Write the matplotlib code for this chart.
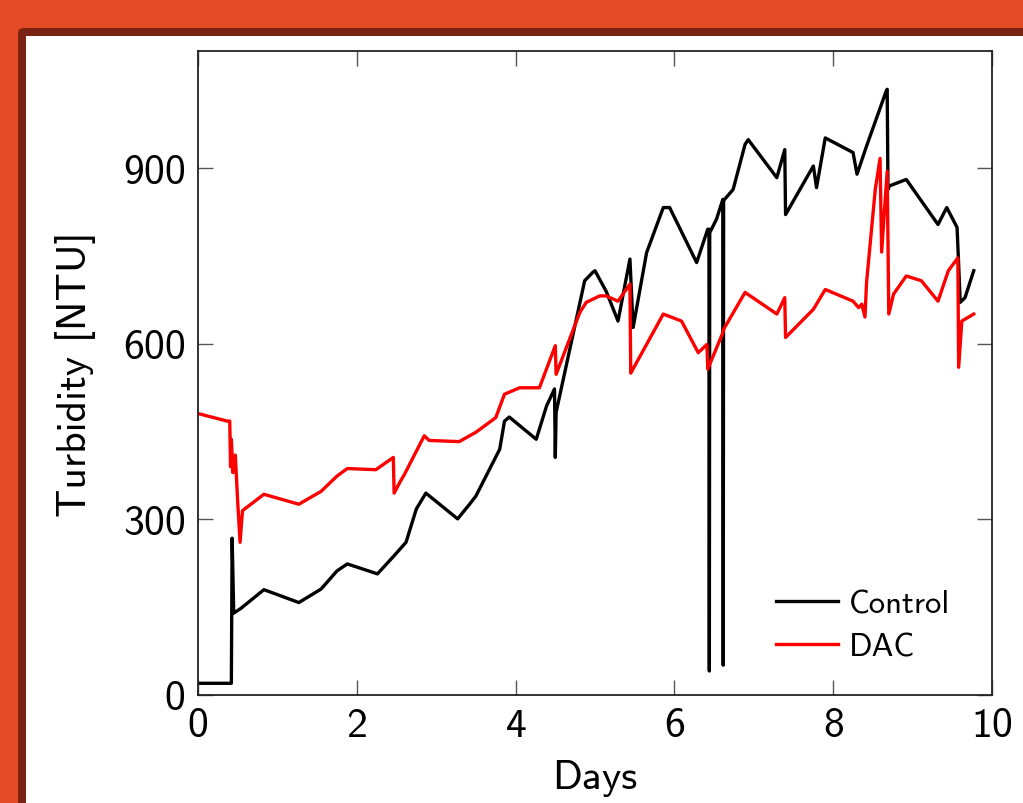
import numpy as np
import matplotlib
matplotlib.use("Agg")
import matplotlib.pyplot as plt
from matplotlib.patches import FancyBboxPatch

plt.rcParams['font.family'] = ['cmss10', 'DejaVu Sans']
plt.rcParams['axes.formatter.use_mathtext'] = True

# Control turbidity trace (days, NTU)
control_days = [0.0, 0.42, 0.43, 0.45, 0.54, 0.83, 1.27, 1.55, 1.75, 1.88, 2.26, 2.47,
                2.62, 2.75, 2.87, 3.27, 3.42, 3.50, 3.80, 3.86, 3.92, 4.26, 4.39, 4.49,
                4.50, 4.51, 4.87, 4.97, 5.00, 5.14, 5.29, 5.44, 5.48, 5.65, 5.86, 5.94,
                6.28, 6.42, 6.435, 6.44, 6.445, 6.53, 6.61, 6.615, 6.62, 6.74, 6.89, 6.93,
                7.29, 7.39, 7.40, 7.75, 7.79, 7.90, 8.25, 8.30, 8.42, 8.57, 8.67, 8.68,
                8.69, 8.71, 8.92, 9.32, 9.43, 9.56, 9.60, 9.66, 9.77]
control_ntu = [20, 20, 268, 140, 148, 180, 158, 181, 212, 224, 207, 238,
               261, 318, 345, 301, 326, 340, 420, 468, 475, 437, 494, 523,
               406, 483, 708, 722, 725, 690, 639, 745, 628, 756, 833, 833,
               739, 796, 796, 41, 790, 813, 847, 51, 845, 864, 941, 949,
               884, 932, 821, 904, 867, 952, 927, 890, 938, 995, 1033, 1035,
               864, 870, 881, 804, 833, 799, 671, 679, 725]

# DAC turbidity trace (days, NTU)
dac_days = [0.0, 0.37, 0.40, 0.41, 0.42, 0.44, 0.47, 0.50, 0.53, 0.56, 0.83, 1.27,
            1.55, 1.75, 1.88, 2.24, 2.46, 2.47, 2.54, 2.60, 2.85, 2.91, 3.29, 3.50,
            3.75, 3.86, 4.05, 4.30, 4.50, 4.51, 4.81, 4.89, 5.06, 5.14, 5.29, 5.44,
            5.45, 5.86, 6.09, 6.30, 6.41, 6.42, 6.61, 6.62, 6.89, 7.29, 7.39, 7.40,
            7.75, 7.90, 8.25, 8.32, 8.36, 8.40, 8.42, 8.53, 8.59, 8.61, 8.68, 8.70,
            8.76, 8.92, 9.11, 9.32, 9.45, 9.57, 9.58, 9.62, 9.77]
dac_ntu = [481, 468, 468, 390, 437, 380, 410, 330, 261, 315, 343, 326,
           348, 374, 387, 385, 406, 345, 363, 377, 443, 435, 433, 449,
           474, 514, 525, 525, 597, 548, 654, 671, 682, 682, 673, 702,
           550, 651, 639, 585, 599, 557, 619, 625, 688, 651, 679, 611,
           659, 693, 673, 662, 668, 646, 705, 864, 917, 757, 895, 651,
           685, 716, 708, 673, 725, 747, 560, 639, 651]

fig = plt.figure(figsize=(10.23, 8.04), dpi=100)
fig.patch.set_facecolor('#E34A25')

# slide panel with dark border
panel = FancyBboxPatch((18 / 1023, -0.05), 1.2, 1 - 29 / 804 + 0.05,
                       boxstyle="round,pad=0,rounding_size=0.006",
                       transform=fig.transFigure, facecolor='#7A2312',
                       edgecolor='none', zorder=-2)
fig.add_artist(panel)
inner = FancyBboxPatch((26 / 1023, -0.05), 1.2, 1 - 37 / 804 + 0.05,
                       boxstyle="square,pad=0", transform=fig.transFigure,
                       facecolor='white', edgecolor='none', zorder=-1)
fig.add_artist(inner)

ax = fig.add_axes([198 / 1023, 1 - 696 / 804, 794 / 1023, (696 - 52.3) / 804])
ax.set_zorder(1)
ax.set_facecolor('white')

ax.plot(control_days, control_ntu, color='black', lw=2.4, label='Control')
ax.plot(dac_days, dac_ntu, color='red', lw=2.4, label='DAC')

ax.set_xlim(0, 10)
ax.set_ylim(0, 1100)
ax.set_xticks([0, 2, 4, 6, 8, 10])
ax.set_yticks([0, 300, 600, 900])

ax.tick_params(direction='in', length=11, width=1, color='#555555',
               top=True, right=True, labelsize=30, pad=9)
for s in ax.spines.values():
    s.set_linewidth(1.3)
    s.set_color('#222222')

ax.set_xlabel('Days', fontsize=30)
ax.set_ylabel('Turbidity [NTU]', fontsize=30)
ax.xaxis.set_label_coords(0.5, -0.1)
ax.yaxis.set_label_coords(-0.129, 0.5)

ax.legend(loc='center left', bbox_to_anchor=(0.728, 0.108), frameon=False,
          fontsize=23.5, handlelength=1.9, handletextpad=0.33, labelspacing=0.45,
          borderpad=0, borderaxespad=0)

fig.savefig('out.png', dpi=100, facecolor=fig.get_facecolor())
